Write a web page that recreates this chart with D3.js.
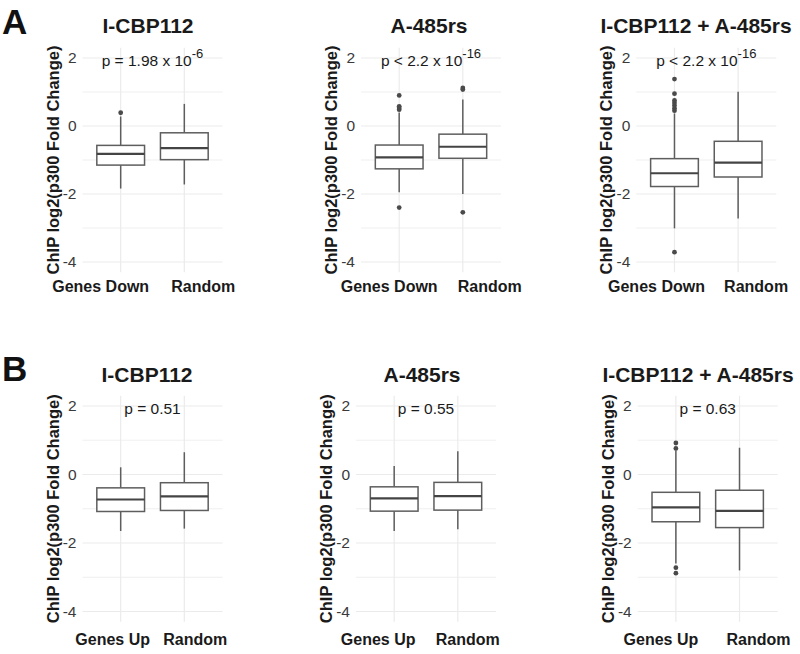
<!DOCTYPE html>
<html lang="en">
<head>
<meta charset="utf-8">
<title>p300 ChIP boxplots</title>
<script src="https://cdn.jsdelivr.net/npm/d3@7"></script>
<style>
  body { margin: 0; background: #fff; }
  svg { font-family: "Liberation Sans", Arial, Helvetica, sans-serif; }
  .grid line { stroke: #ebebeb; }
  .box { fill: #fff; stroke: #5e5e5e; stroke-width: 1.5; }
  .whisker { stroke: #5e5e5e; stroke-width: 1.5; }
  .median { stroke: #444; stroke-width: 2.2; }
  .outlier { fill: #4a4a4a; }
</style>
</head>
<body>
<div id="chart"></div>
<script>

// data: each box is [whisker low, Q1, median, Q3, whisker high]
const yTicks = [2, 0, -2, -4];
const minorTicks = [1, -1, -3];

const titles = ["I-CBP112", "A-485rs", "I-CBP112 + A-485rs",
                "I-CBP112", "A-485rs", "I-CBP112 + A-485rs"];
const groupsA = ["Genes Down", "Random"];
const groupsB = ["Genes Up", "Random"];

const pLabels = [
  ["p = 1.98 x 10", "-6"],
  ["p < 2.2 x 10", "-16"],
  ["p < 2.2 x 10", "-16"],
  ["p = 0.51", ""],
  ["p = 0.55", ""],
  ["p = 0.63", ""]
];

const boxesFirst = [
  [-1.84, -1.15, -0.82, -0.57, 0.28],
  [-1.95, -1.26, -0.92, -0.56, 0.40],
  [-3.01, -1.78, -1.39, -0.96, 0.37],
  [-1.65, -1.08, -0.73, -0.39, 0.21],
  [-1.65, -1.07, -0.70, -0.36, 0.25],
  [-2.60, -1.38, -0.96, -0.52, 0.70]
];
const boxesRandom = [
  [-1.72, -0.99, -0.65, -0.20, 0.65],
  [-2.00, -0.95, -0.61, -0.24, 0.78],
  [-2.72, -1.50, -1.08, -0.45, 1.01],
  [-1.58, -1.05, -0.64, -0.24, 0.65],
  [-1.60, -1.04, -0.63, -0.23, 0.68],
  [-2.80, -1.55, -1.06, -0.46, 0.78]
];
const outliersFirst = [
  [0.39],
  [0.48, 0.53, 0.58, 0.90, -2.40],
  [0.45, 0.52, 0.60, 0.68, 0.75, 0.95, 1.38, -3.71],
  [],
  [],
  [0.76, 0.92, -2.72, -2.88]
];
const outliersRandom = [
  [],
  [1.07, 1.12, -2.54],
  [],
  [],
  [],
  []
];

// layout
const W = 800, H = 654;
const rows = [
  { letter: "A", letterY: 34, top: 47.8, bottom: 272.2, titleY: 33, xLabY: 292 },
  { letter: "B", letterY: 381, top: 395.7, bottom: 621.8, titleY: 382, xLabY: 645 }
];
const panels = [
  { row: 0, left: 82.5, titleX: 148, labDx: [-20, 19] },
  { row: 0, left: 361, titleX: 429, labDx: [-10, 27] },
  { row: 0, left: 636.3, titleX: 696, labDx: [-18, 18] },
  { row: 1, left: 82.5, titleX: 147, labDx: [-8, 11] },
  { row: 1, left: 356, titleX: 422, labDx: [-16, 10] },
  { row: 1, left: 637.7, titleX: 698, labDx: [-15, 19] }
];
const plotW = 140;

const svg = d3.select("#chart").append("svg")
  .attr("width", W).attr("height", H)
  .attr("viewBox", [0, 0, W, H]);

rows.forEach(r => {
  svg.append("text")
    .attr("x", 2).attr("y", r.letterY)
    .attr("font-size", 35).attr("font-weight", "bold")
    .attr("fill", "#111")
    .text(r.letter);
});

panels.forEach((p, i) => {
  const r = rows[p.row];
  const groups = p.row === 0 ? groupsA : groupsB;
  const y = d3.scaleLinear().domain([-4.3, 2.3]).range([r.bottom, r.top]);
  const x = d3.scalePoint().domain(groups).range([p.left, p.left + plotW]).padding(0.6);
  const bw = x.step() * 0.75;

  const g = svg.append("g");

  // grid
  const grid = g.append("g").attr("class", "grid");
  grid.selectAll("line.minor").data(minorTicks).join("line")
    .attr("class", "minor")
    .attr("x1", p.left).attr("x2", p.left + plotW)
    .attr("y1", d => y(d)).attr("y2", d => y(d))
    .attr("stroke-width", 0.8);
  grid.selectAll("line.major").data(yTicks).join("line")
    .attr("class", "major")
    .attr("x1", p.left).attr("x2", p.left + plotW)
    .attr("y1", d => y(d)).attr("y2", d => y(d))
    .attr("stroke-width", 1.2);
  grid.selectAll("line.vert").data(groups).join("line")
    .attr("class", "vert")
    .attr("x1", d => x(d)).attr("x2", d => x(d))
    .attr("y1", r.top).attr("y2", r.bottom)
    .attr("stroke-width", 1.2);

  // y axis labels
  const ax = g.append("g")
    .attr("transform", `translate(${p.left - 2},0)`)
    .call(d3.axisLeft(y).tickValues(yTicks).tickSize(0).tickPadding(4).tickFormat(d => String(d)));
  ax.select(".domain").remove();
  ax.selectAll("text").attr("font-size", 15.5).attr("fill", "#3a3a3a");

  // y title
  g.append("text")
    .attr("transform", `translate(${p.left - 30},${(r.top + r.bottom) / 2}) rotate(-90)`)
    .attr("text-anchor", "middle")
    .attr("dominant-baseline", "central")
    .attr("font-size", 16.5).attr("font-weight", "bold").attr("fill", "#1a1a1a")
    .text("ChIP log2(p300 Fold Change)");

  // title
  g.append("text")
    .attr("x", p.titleX).attr("y", r.titleY)
    .attr("text-anchor", "middle")
    .attr("font-size", 21).attr("font-weight", "bold").attr("fill", "#1a1a1a")
    .text(titles[i]);

  // boxes
  const boxes = [boxesFirst[i], boxesRandom[i]];
  const outs = [outliersFirst[i], outliersRandom[i]];
  groups.forEach((grp, k) => {
    const [lo, q1, med, q3, hi] = boxes[k];
    const cx = x(grp);
    g.append("line").attr("class", "whisker")
      .attr("x1", cx).attr("x2", cx).attr("y1", y(q3)).attr("y2", y(hi));
    g.append("line").attr("class", "whisker")
      .attr("x1", cx).attr("x2", cx).attr("y1", y(q1)).attr("y2", y(lo));
    g.append("rect").attr("class", "box")
      .attr("x", cx - bw / 2).attr("width", bw)
      .attr("y", y(q3)).attr("height", y(q1) - y(q3));
    g.append("line").attr("class", "median")
      .attr("x1", cx - bw / 2).attr("x2", cx + bw / 2)
      .attr("y1", y(med)).attr("y2", y(med));
    g.selectAll(null).data(outs[k]).join("circle")
      .attr("class", "outlier")
      .attr("cx", cx).attr("cy", d => y(d)).attr("r", 2.4);

    // x labels
    g.append("text")
      .attr("x", cx + p.labDx[k]).attr("y", r.xLabY)
      .attr("text-anchor", "middle")
      .attr("font-size", 16).attr("font-weight", "bold").attr("fill", "#1a1a1a")
      .text(grp);
  });

  // p value
  const mid = (x(groups[0]) + x(groups[1])) / 2;
  const pt = g.append("text")
    .attr("x", mid).attr("y", y(1.9) + 5)
    .attr("text-anchor", "middle")
    .attr("font-size", 15.5).attr("fill", "#1a1a1a");
  pt.append("tspan").text(pLabels[i][0]);
  if (pLabels[i][1]) {
    pt.append("tspan").attr("dy", -8).attr("font-size", 13).text(pLabels[i][1]);
  }
});

</script>
</body>
</html>
